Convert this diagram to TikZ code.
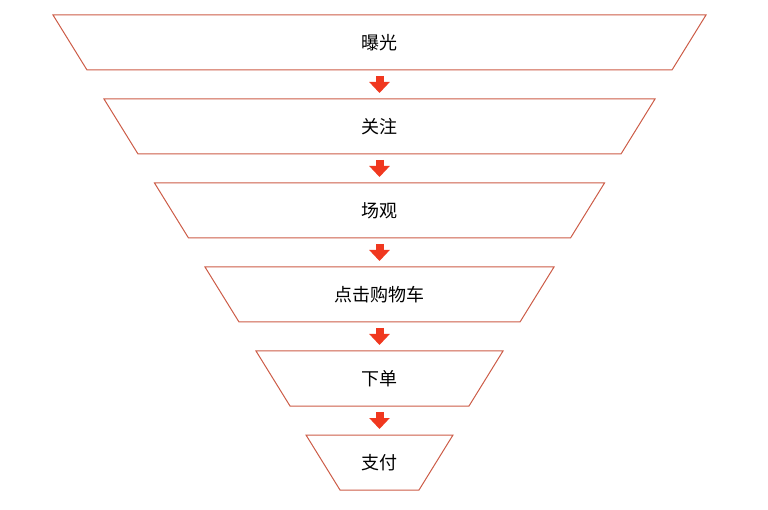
\documentclass[tikz,border=0pt]{standalone}
\usepackage{fontspec}
\newfontfamily\cjk{Noto Sans CJK SC}
\usetikzlibrary{positioning, arrows.meta, calc}
\definecolor{funnelline}{rgb}{0.80,0.36,0.28}
\definecolor{arrowred}{rgb}{0.94,0.22,0.12}

\begin{document}
\begin{tikzpicture}[x=1pt, y=-1pt,
    stage/.style={minimum height=55pt, inner sep=0pt, outer sep=0pt,
        font=\cjk\fontsize{18}{21}\selectfont},
    rim/.style={draw=funnelline, line width=1pt},
    flow/.style={arrowred, line width=8pt, -{Triangle[width=20pt,length=11pt]},
        shorten <=6pt, shorten >=6pt}]
    \useasboundingbox (0,0) rectangle (768,510);

    \node[stage, minimum width=585pt] (s1) at (379.5,42.5) {曝光};
    \node[stage, minimum width=483pt, below=29pt of s1] (s2) {关注};
    \node[stage, minimum width=382pt, below=29pt of s2] (s3) {场观};
    \node[stage, minimum width=281pt, below=29pt of s3] (s4) {点击购物车};
    \node[stage, minimum width=179pt, below=29pt of s4] (s5) {下单};
    \node[stage, minimum width=79pt, below=29pt of s5] (s6) {支付};

    % funnel outlines
    \foreach \s in {s1, s2, s3, s4, s5, s6}
        \draw[rim] ($(\s.north west)+(-34,0)$) -- ($(\s.north east)+(34,0)$)
            -- (\s.south east) -- (\s.south west) -- cycle;

    \foreach \a/\b in {s1/s2, s2/s3, s3/s4, s4/s5, s5/s6}
        \draw[flow] (\a.south) -- (\b.north);
\end{tikzpicture}
\end{document}
